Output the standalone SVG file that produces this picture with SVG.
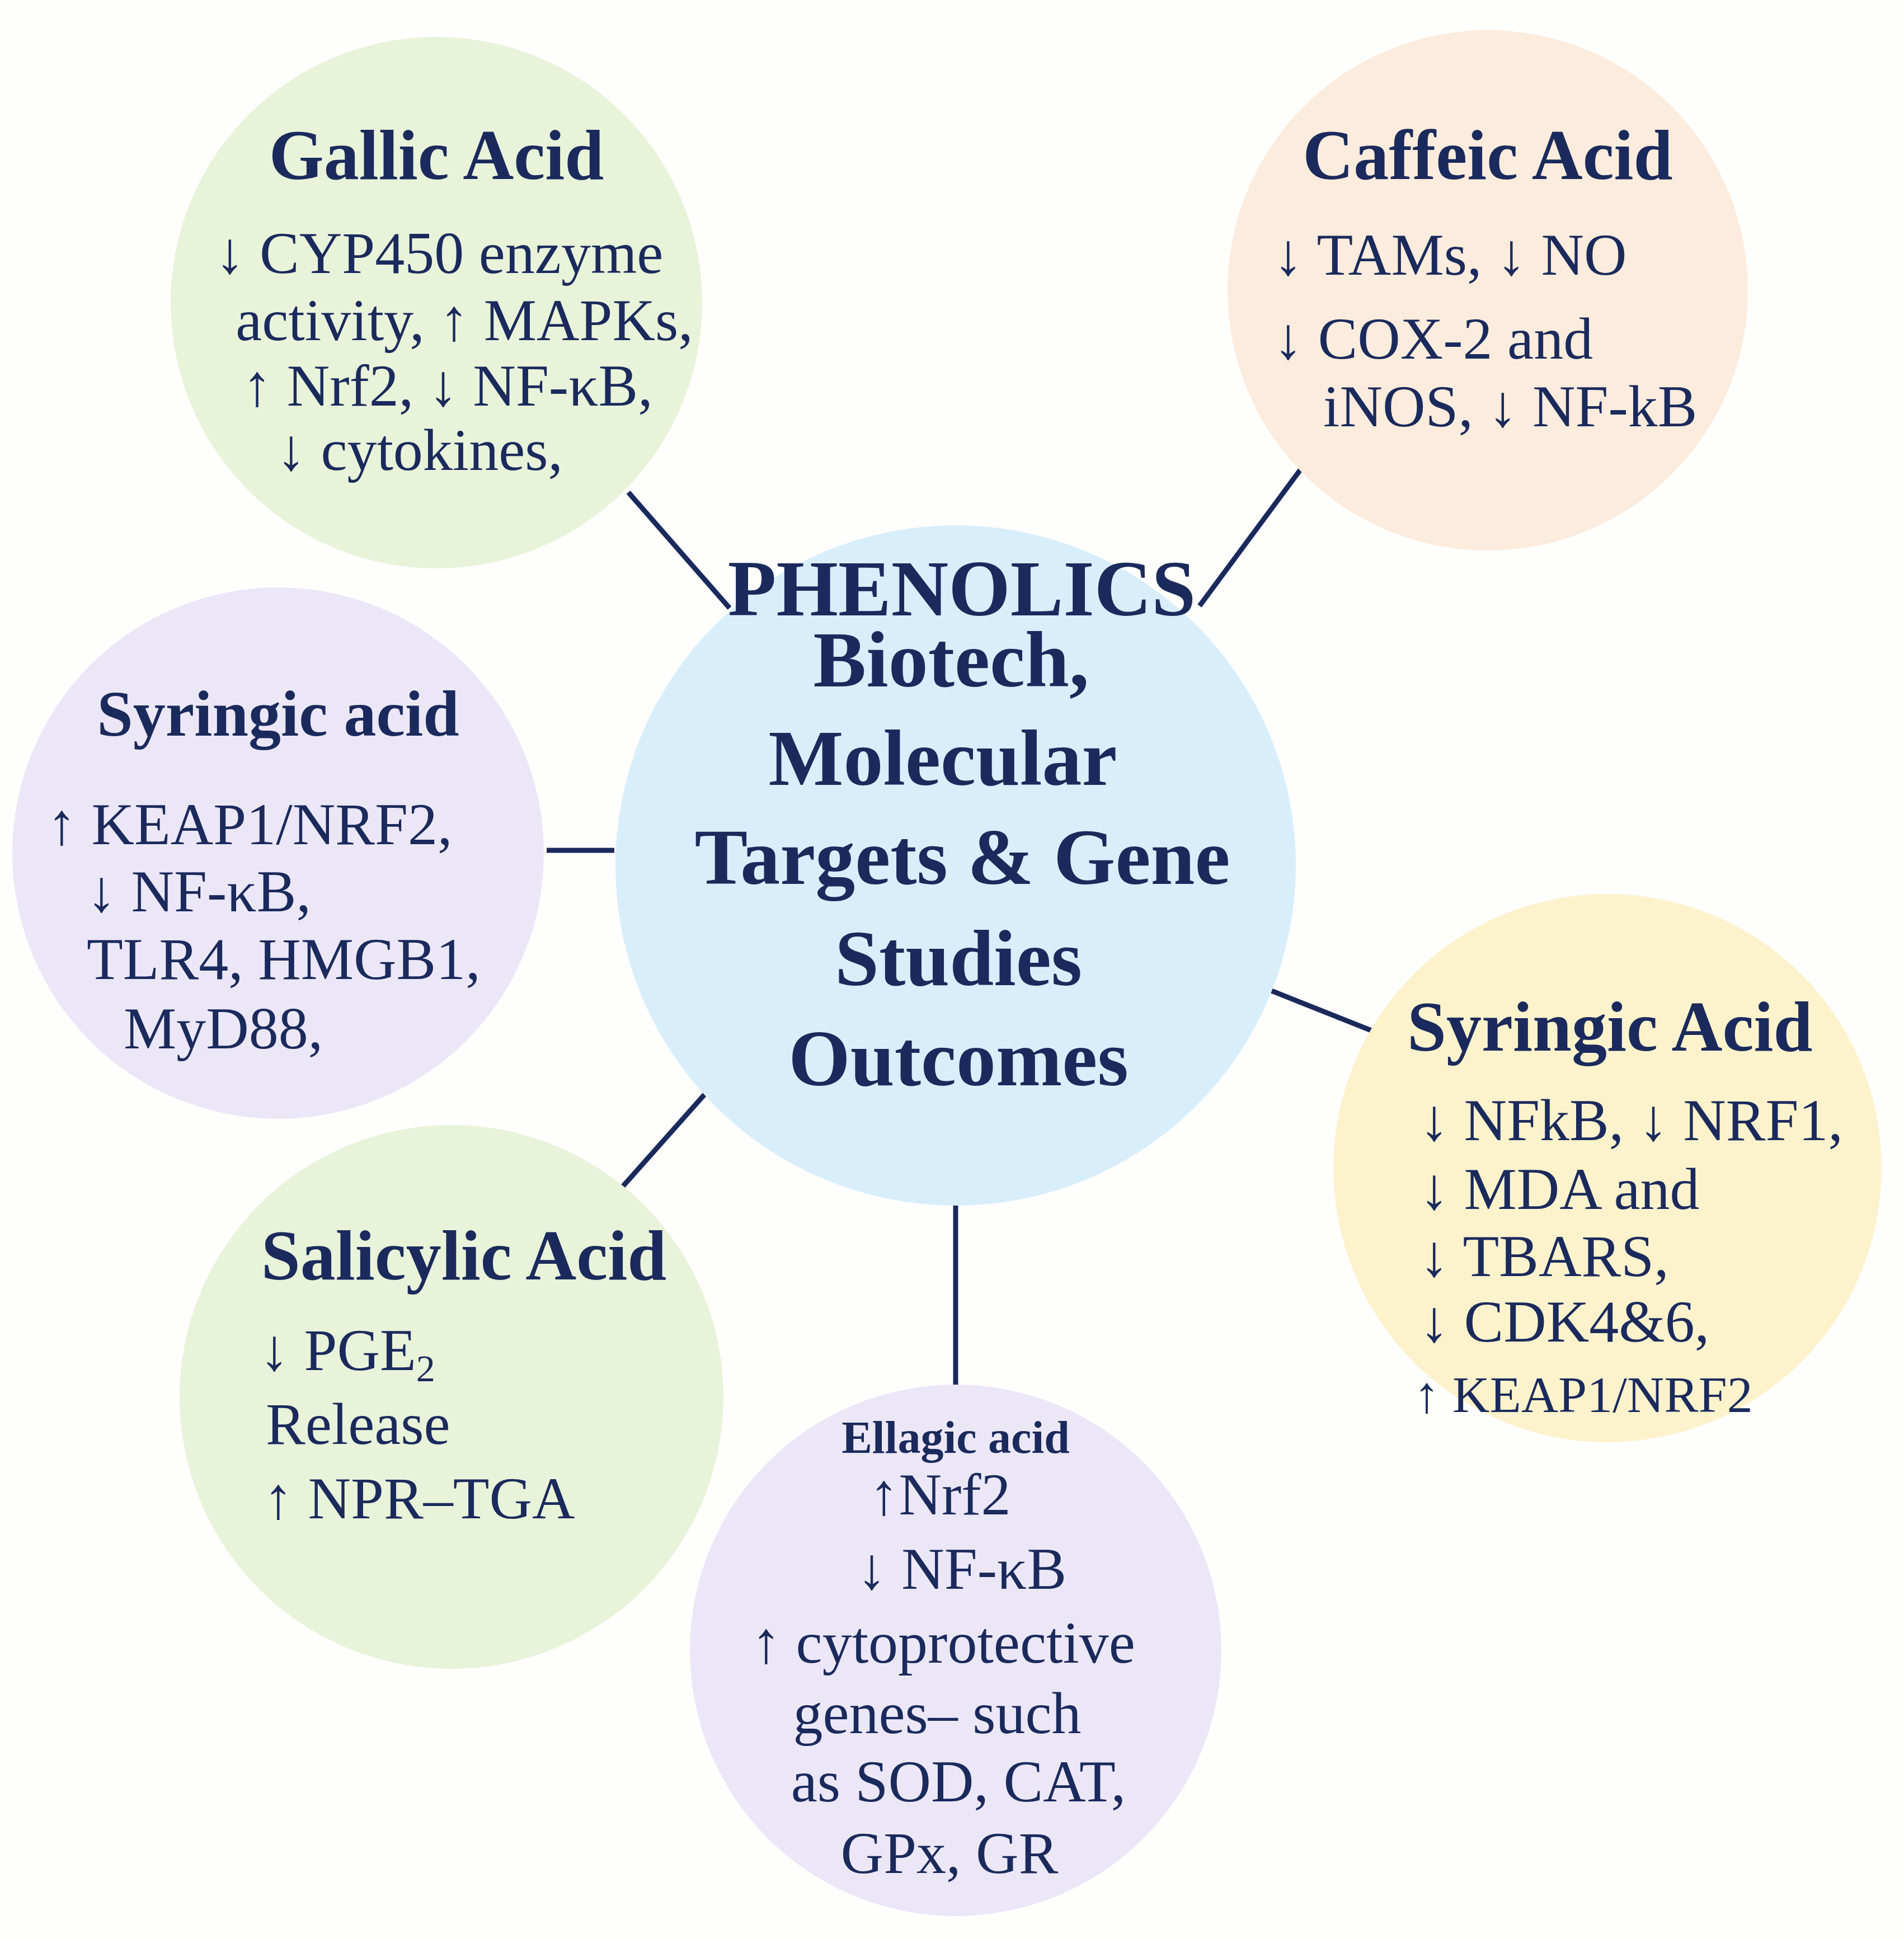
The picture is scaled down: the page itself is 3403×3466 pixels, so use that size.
<svg xmlns="http://www.w3.org/2000/svg" width="3403" height="3466" viewBox="0 0 3403 3466">
<style>
text{font-family:"Liberation Serif","DejaVu Serif",serif;fill:#1b2a5c}
.t{font-weight:bold;font-size:126px}
.b{font-size:106px}
.c{text-anchor:middle}
.m{font-weight:bold;font-size:142px;text-anchor:middle}
line{stroke:#1b2a5c;stroke-width:9}
</style>
<rect width="3403" height="3466" fill="#fefefc"/>
<g id="connectors">
<line x1="1123" y1="880" x2="1304" y2="1087"/>
<line x1="2332" y1="829" x2="2144" y2="1083"/>
<line x1="977" y1="1520" x2="1098" y2="1520"/>
<line x1="2265" y1="1768" x2="2486" y2="1856"/>
<line x1="1264" y1="1951" x2="1112" y2="2122"/>
<line x1="1708" y1="2133" x2="1708" y2="2497"/>
</g>
<g id="gallic">
<circle cx="780" cy="541" r="475" fill="#e8f3da"/>
<text class="t c" x="780" y="320">Gallic Acid</text>
<text class="b c" x="785" y="488">↓ CYP450 enzyme</text>
<text class="b c" x="830" y="608">activity, ↑ MAPKs,</text>
<text class="b c" x="800" y="725">↑ Nrf2, ↓ NF-κB,</text>
<text class="b c" x="750" y="840">↓ cytokines,</text>
</g>
<g id="caffeic">
<circle cx="2659" cy="519" r="465" fill="#fcecdd"/>
<text class="t c" x="2659" y="320">Caffeic Acid</text>
<text class="b" x="2276" y="491">↓ TAMs, ↓ NO</text>
<text class="b" x="2276" y="641">↓ COX-2 and</text>
<text class="b" x="2365" y="762">iNOS, ↓ NF-kB</text>
</g>
<g id="center">
<circle cx="1708" cy="1547" r="608" fill="#d9eefb"/>
<text class="m" x="1719" y="1100">PHENOLICS</text>
<text class="m" x="1700" y="1227">Biotech,</text>
<text class="m" x="1685" y="1403">Molecular</text>
<text class="m" x="1720" y="1580">Targets &amp; Gene</text>
<text class="m" x="1713" y="1761">Studies</text>
<text class="m" x="1713" y="1940">Outcomes</text>
</g>
<g id="syringic-left">
<circle cx="497" cy="1525" r="475" fill="#ece7f7"/>
<text class="t c" x="497" y="1315" style="font-size:116px">Syringic acid</text>
<text class="b" x="84" y="1509">↑ KEAP1/NRF2,</text>
<text class="b" x="155" y="1629">↓ NF-κB,</text>
<text class="b" x="155" y="1750">TLR4,  HMGB1,</text>
<text class="b" x="221" y="1874">MyD88,</text>
</g>
<g id="syringic-right">
<circle cx="2873" cy="2088" r="490" fill="#fcf3cd"/>
<text class="t" x="2515" y="1878">Syringic Acid</text>
<text class="b" x="2537" y="2038">↓ NFkB, ↓ NRF1,</text>
<text class="b" x="2537" y="2161">↓ MDA and</text>
<text class="b" x="2537" y="2281">↓ TBARS,</text>
<text class="b" x="2537" y="2398">↓ CDK4&amp;6,</text>
<text class="b" x="2527" y="2524" style="font-size:92px">↑ KEAP1/NRF2</text>
</g>
<g id="salicylic">
<circle cx="807" cy="2497" r="486" fill="#e8f3da"/>
<text class="t c" x="829" y="2287">Salicylic Acid</text>
<text class="b" x="464" y="2449">↓ PGE<tspan style="font-size:68px" dy="20">2</tspan></text>
<text class="b" x="475" y="2581">Release</text>
<text class="b" x="471" y="2714">↑ NPR–TGA</text>
</g>
<g id="ellagic">
<circle cx="1708" cy="2950" r="475" fill="#ece7f7"/>
<text class="t c" x="1708" y="2597" style="font-size:82px">Ellagic acid</text>
<text class="b c" x="1680" y="2707">↑Nrf2</text>
<text class="b c" x="1719" y="2840">↓ NF-κB</text>
<text class="b c" x="1686" y="2972">↑ cytoprotective</text>
<text class="b c" x="1675" y="3098">genes– such</text>
<text class="b c" x="1713" y="3220">as SOD, CAT,</text>
<text class="b c" x="1697" y="3348">GPx, GR</text>
</g>
</svg>
